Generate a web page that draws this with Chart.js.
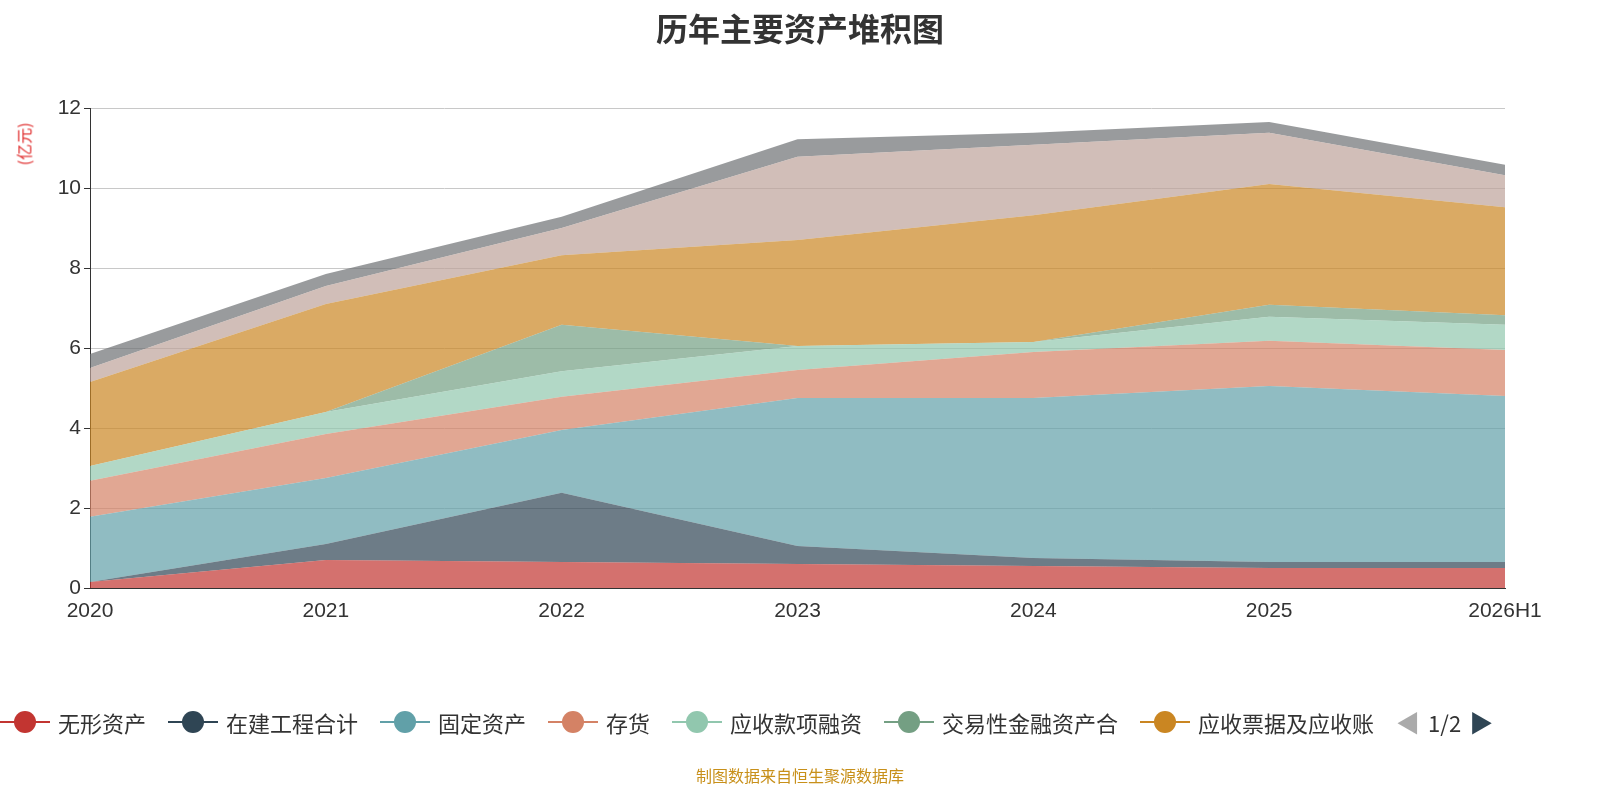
<!DOCTYPE html>
<html><head><meta charset="utf-8">
<script src="https://cdn.jsdelivr.net/npm/chart.js@4"></script>
<style>
body{margin:0;width:1600px;height:800px;position:relative;font-family:"Noto Sans CJK SC","Noto Sans",sans-serif;background:#fff;overflow:hidden}
#title{position:absolute;top:4px;width:100%;text-align:center;font-size:32px;font-weight:bold;color:#333}
#unit{position:absolute;left:2px;top:132px;color:#e03030;font-size:16px;transform:rotate(-90deg);transform-origin:center}
#wrap{position:absolute;left:0;top:0;width:1600px;height:800px}
#legend{position:absolute;top:704px;left:0;display:flex;align-items:center;font-size:22px;color:#333;white-space:nowrap}
.li{display:flex;align-items:center;margin-right:22px}
.mk{position:relative;width:50px;height:24px;margin-right:8px}
.mk i{position:absolute;left:0;right:0;top:11px;height:2px}
.mk b{position:absolute;left:14px;top:1px;width:22px;height:22px;border-radius:50%}
#foot{position:absolute;top:763px;width:100%;text-align:center;color:#c8901a;font-size:16px}
</style></head><body>
<div id="wrap"><canvas id="c" width="1600" height="800"></canvas></div>
<div id="title">历年主要资产堆积图</div>
<div id="unit">(亿元)</div>
<div id="legend"></div>
<div id="foot">制图数据来自恒生聚源数据库</div>
<script>
const categories = ['2020','2021','2022','2023','2024','2025','2026H1'];
const seriesNames = ['无形资产','在建工程合计','固定资产','存货','应收款项融资','交易性金融资产合计','应收票据及应收账款','货币资金','其他'];
const wuxing = [0.15, 0.7, 0.65, 0.6, 0.55, 0.5, 0.5];
const zaijian = [0, 0.4, 1.73, 0.45, 0.2, 0.15, 0.15];
const guding = [1.63, 1.65, 1.57, 3.7, 4.0, 4.4, 4.15];
const cunhuo = [0.9, 1.1, 0.83, 0.7, 1.15, 1.13, 1.15];
const rongzi = [0.37, 0.55, 0.64, 0.6, 0.25, 0.6, 0.63];
const jiaoyi = [0, 0, 1.16, 0, 0, 0.3, 0.24];
const yingshou = [2.1, 2.7, 1.74, 2.65, 3.17, 3.02, 2.7];
const huobi = [0.35, 0.45, 0.68, 2.08, 1.76, 1.28, 0.8];
const qita = [0.35, 0.3, 0.28, 0.44, 0.3, 0.27, 0.26];
const yTicks = [0, 2, 4, 6, 8, 10, 12];

const colors = ['#c23531','#2f4554','#61a0a8','#d48265','#91c7ae','#749f83','#ca8622','#bda29a','#6e7074'];
const values = [wuxing, zaijian, guding, cunhuo, rongzi, jiaoyi, yingshou, huobi, qita];

const datasets = values.map((v, i) => ({
  label: seriesNames[i],
  data: v,
  fill: i === 0 ? 'origin' : '-1',
  backgroundColor: colors[i] + 'b3',
  borderWidth: 0,
  pointRadius: 0,
  tension: 0
}));

const lg = document.getElementById('legend');
seriesNames.slice(0, 7).forEach((n, i) => {
  const txt = n.length > 8 ? n.slice(0, 8) : n;
  lg.innerHTML += `<div class="li"><div class="mk"><i style="background:${colors[i]}"></i><b style="background:${colors[i]}"></b></div>${txt}</div>`;
});
lg.innerHTML += '<span style="color:#aaa;font-size:24px">&#9664;</span><span style="margin:0 8px">1/2</span><span style="color:#2f4554;font-size:24px">&#9654;</span>';

new Chart(document.getElementById('c'), {
  type: 'line',
  data: { labels: categories, datasets: datasets },
  options: {
    responsive: false,
    animation: false,
    layout: { padding: { left: 0, right: 95, top: 108, bottom: 0 } },
    plugins: { legend: { display: false }, tooltip: { enabled: false } },
    scales: {
      x: {
        offset: false,
        grid: { display: false },
        border: { color: '#333' },
        ticks: { color: '#333', font: { size: 21 }, maxRotation: 0 },
        afterFit: s => { s.height = 212; }
      },
      y: {
        stacked: true,
        min: 0, max: 12,
        afterBuildTicks: s => { s.ticks = yTicks.map(v => ({ value: v })); },
        grid: { color: '#c8c8c8', tickColor: '#333', tickLength: 6 },
        border: { color: '#333' },
        ticks: { color: '#333', font: { size: 21 } },
        afterFit: s => { s.width = 90; }
      }
    }
  }
});
</script>
</body></html>
